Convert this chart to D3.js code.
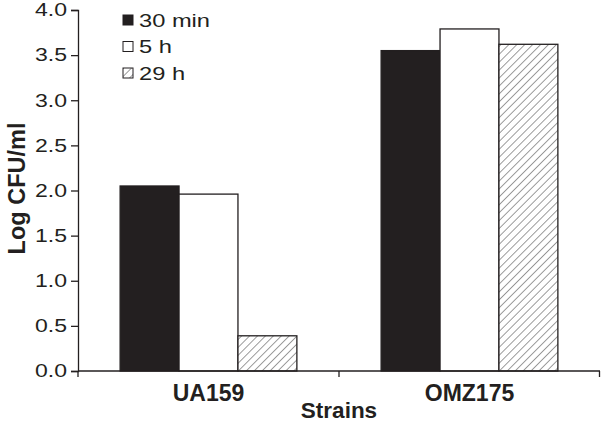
<!DOCTYPE html>
<html>
<head>
<meta charset="utf-8">
<script src="https://cdn.jsdelivr.net/npm/d3@7"></script>
<style>
  body { margin: 0; background: #fff; }
  text { font-family: "Liberation Sans", Arial, sans-serif; fill: #231f20; }
</style>
</head>
<body>
<div id="chart"></div>
<script>
// data
var strains = ["UA159", "OMZ175"];
var times = ["30 min", "5 h", "29 h"];
var v30min = [2.05, 3.55];
var v5h = [1.96, 3.79];
var v29h = [0.39, 3.62];
var yTicks = [0, 0.5, 1, 1.5, 2, 2.5, 3, 3.5, 4];

var w = 601, h = 422;
var m = {left: 78, right: 1, top: 10, bottom: 51};
var ink = "#231f20";
var sx = 1.28; // the plain text in the picture is drawn wide

var svg = d3.select("#chart").append("svg")
  .attr("width", w).attr("height", h);

var defs = svg.append("defs");
var pat = defs.append("pattern")
  .attr("id", "hatch")
  .attr("patternUnits", "userSpaceOnUse")
  .attr("width", 5.6).attr("height", 5.6)
  .attr("patternTransform", "rotate(45)");
pat.append("rect").attr("width", 5.6).attr("height", 5.6).attr("fill", "#fff");
pat.append("line")
  .attr("x1", 0).attr("y1", 0).attr("x2", 0).attr("y2", 5.6)
  .attr("stroke", "#3a3a3a").attr("stroke-width", 1);

var x = d3.scaleBand().domain(strains)
  .range([m.left, w - m.right]).paddingInner(0).paddingOuter(0);
var x1 = d3.scaleBand().domain(times)
  .range([0, x.bandwidth()]).paddingOuter(0.715).paddingInner(0);
var y = d3.scaleLinear().domain([0, 4]).range([h - m.bottom, m.top]);

var fills = {"30 min": ink, "5 h": "#fff", "29 h": "url(#hatch)"};
var rows = strains.map(function(s, i) {
  return {strain: s, vals: [
    {t: "30 min", v: v30min[i]},
    {t: "5 h", v: v5h[i]},
    {t: "29 h", v: v29h[i]}
  ]};
});

var g = svg.selectAll("g.grp").data(rows).enter().append("g")
  .attr("class", "grp")
  .attr("transform", function(d) { return "translate(" + x(d.strain) + ",0)"; });
g.selectAll("rect").data(function(d) { return d.vals; }).enter().append("rect")
  .attr("x", function(d) { return x1(d.t); })
  .attr("width", x1.bandwidth())
  .attr("y", function(d) { return y(d.v); })
  .attr("height", function(d) { return y(0) - y(d.v); })
  .attr("fill", function(d) { return fills[d.t]; })
  .attr("stroke", ink).attr("stroke-width", 1.3);

// y axis
var ya = svg.append("g").attr("transform", "translate(" + m.left + ",0)")
  .call(d3.axisLeft(y).tickValues(yTicks).tickFormat(d3.format(".1f")).tickSize(7).tickPadding(4));
ya.selectAll("text").style("font-size", "18px").attr("fill", ink)
  .attr("x", -11 / sx).attr("transform", "scale(" + sx + ",1)");
ya.selectAll("line, path").attr("stroke", ink).attr("stroke-width", 1.3);

// x axis, ticks at band edges
var xa = svg.append("g").attr("transform", "translate(0," + y(0) + ")");
xa.append("line").attr("x1", m.left).attr("x2", w - m.right)
  .attr("stroke", ink).attr("stroke-width", 1.3);
var edges = [m.left, x("OMZ175"), w - m.right - 0.5];
xa.selectAll("line.tk").data(edges).enter().append("line")
  .attr("class", "tk")
  .attr("x1", function(d) { return d; }).attr("x2", function(d) { return d; })
  .attr("y1", 0).attr("y2", 6).attr("stroke", ink).attr("stroke-width", 1.3);
xa.selectAll("text").data(strains).enter().append("text")
  .attr("x", function(d) { return x(d) + x.bandwidth() / 2; })
  .attr("y", 30)
  .attr("text-anchor", "middle")
  .style("font-size", "23px").style("font-weight", "bold")
  .text(function(d) { return d; });

svg.append("text")
  .attr("x", (m.left + w - m.right) / 2).attr("y", 418)
  .attr("text-anchor", "middle")
  .style("font-size", "22.5px").style("font-weight", "bold")
  .text("Strains");

svg.append("text")
  .attr("transform", "translate(25,188.5) rotate(-90)")
  .attr("text-anchor", "middle")
  .style("font-size", "23.5px").style("font-weight", "bold")
  .text("Log CFU/ml");

// legend
var leg = svg.append("g").attr("transform", "translate(123,15)");
var li = leg.selectAll("g").data(times).enter().append("g")
  .attr("transform", function(d, i) { return "translate(0," + (i * 26.5) + ")"; });
li.append("rect").attr("width", 10).attr("height", 10)
  .attr("fill", function(d) { return fills[d]; })
  .attr("stroke", ink).attr("stroke-width", 1);
li.append("text").attr("x", 16 / sx).attr("y", 11.5)
  .attr("transform", "scale(" + sx + ",1)")
  .style("font-size", "18.5px")
  .text(function(d) { return d; });
</script>
</body>
</html>
